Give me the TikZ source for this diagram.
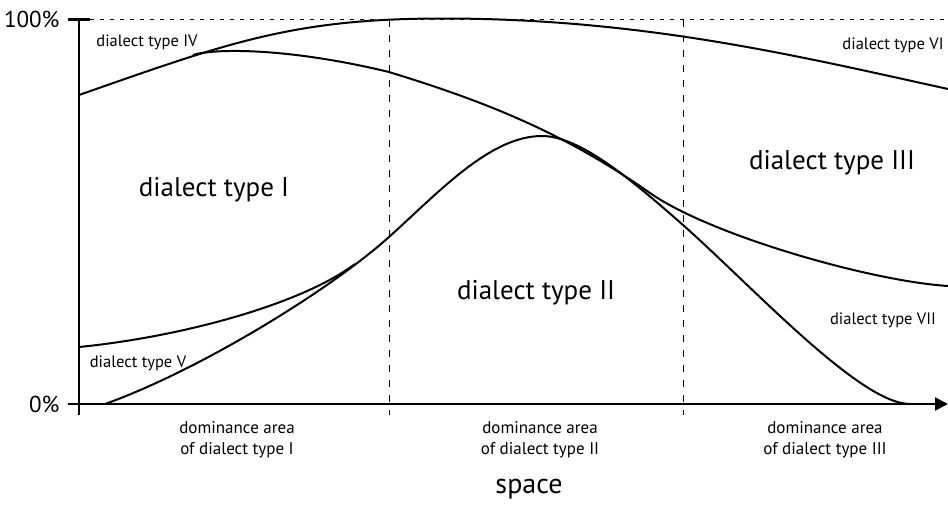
\documentclass[tikz,border=0pt]{standalone}
\usepackage{fontspec}
\setmainfont{PT Sans}
\usetikzlibrary{arrows.meta}
\tikzset{
curve/.style=
    {line width=2pt
    },
axisline/.style=
    {line width=2.3pt
    },
guide/.style=
    {line width=0.9pt,
    dash pattern=on 7pt off 8pt
    },
topline/.style=
    {line width=1.4pt,
    dash pattern=on 4pt off 6pt
    },
biglabel/.style={font=\fontsize{27}{30}\selectfont},
smalllabel/.style={font=\fontsize{16.5}{19}\selectfont},
pctlabel/.style={font=\fontsize{23}{26}\selectfont,anchor=east},
arealabel/.style=
    {font=\fontsize{17}{21}\selectfont,
    align=center
    }}

\begin{document}
\begin{tikzpicture}[x=1pt,y=-1pt]
\useasboundingbox (0,0) rectangle (948,507);
% axes and guides
\draw[topline] (90,19.5) -- (948,19.5);
\draw[axisline] (68,19.5) -- (90,19.5);
\draw[axisline] (79,19.5) -- (79,415);
\draw[axisline,-{Triangle[length=13pt,width=13pt]}] (68,404) -- (948,404);
\draw[guide] (389,20) -- (389,415);
\draw[guide] (683,20) -- (683,415);
% curves
\draw[curve] (79,95) .. controls (229,42.5) and (293,18.5) .. (443,18.5)
    .. controls (643,18.5) and (798,56) .. (948,89);
\draw[curve] (193,55) .. controls (215,48) and (290,48) .. (389,72)
    .. controls (480,100) and (560,130) .. (650,193)
    .. controls (710,235) and (870,281) .. (948,286);
\draw[curve] (105,404) .. controls (200,370) and (330,290) .. (389,237)
    .. controls (439,192) and (490,136) .. (542,136)
    .. controls (580,136) and (633,181) .. (683,225)
    .. controls (753,287) and (860,404) .. (910,404);
\draw[curve] (79,347) .. controls (180,337) and (300,305) .. (355,264);
% labels
\node[pctlabel] (pcthigh) at (63,19.5) {100\%};
\node[pctlabel] (pctlow) at (63,404) {0\%};
\node[biglabel] (typeI) at (214,190) {dialect type I};
\node[biglabel] (typeII) at (536,293) {dialect type II};
\node[biglabel] (typeIII) at (832,163) {dialect type III};
\node[smalllabel] (typeIV) at (147,42) {dialect type IV};
\node[smalllabel] (typeV) at (138,363) {dialect type V};
\node[smalllabel] (typeVI) at (893,45) {dialect type VI};
\node[smalllabel] (typeVII) at (883,320) {dialect type VII};
\node[arealabel] (areaI) at (237,440) {dominance area\\of dialect type I};
\node[arealabel] (areaII) at (540,440) {dominance area\\of dialect type II};
\node[arealabel] (areaIII) at (825,440) {dominance area\\of dialect type III};
\node[font=\fontsize{28}{32}\selectfont] (space) at (529,489) {space};
\end{tikzpicture}
\end{document}
